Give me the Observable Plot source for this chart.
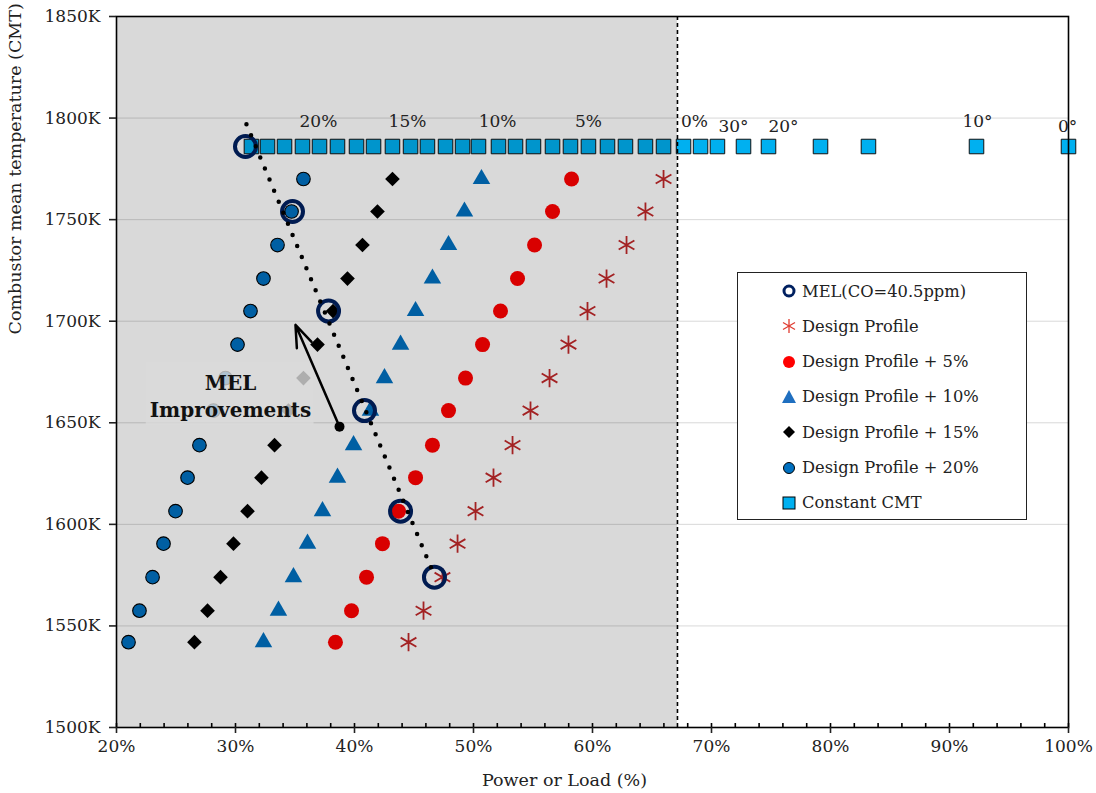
<!DOCTYPE html>
<html>
<head>
<meta charset="utf-8">
<script src="https://cdn.jsdelivr.net/npm/d3@7"></script>
<script src="https://cdn.jsdelivr.net/npm/@observablehq/plot@0.6"></script>
<style>
  html, body { margin: 0; padding: 0; background: white; }
  #wrap { position: relative; width: 1096px; height: 793px; }
  #legend { position: absolute; left: 737px; top: 272px; width: 290px; height: 248px;
    border: 1px solid #222; background: white; font-family: "DejaVu Serif", serif; font-size: 16.3px; color: #222; box-sizing: border-box; }
  .row { position: absolute; left: 42px; height: 22px; display: flex; align-items: center; white-space: nowrap; }
  .row svg { margin-right: 4px; }
</style>
</head>
<body>
<div id="wrap"><div id="chart"></div><div id="legend"></div></div>
<script>
// Temperature rows (K) shared by the design-profile series
const tempRows = [1542, 1557.5, 1574, 1590.5, 1606.5, 1623, 1639, 1656, 1672, 1688.5, 1705, 1721, 1737.5, 1754, 1770];
// Power or Load (%) per series, same order as tempRows
const designX   = [44.54, 45.80, 47.39, 48.66, 50.17, 51.68, 53.28, 54.79, 56.39, 57.98, 59.58, 61.18, 62.86, 64.45, 65.97];
const plus5X    = [38.40, 39.75, 41.01, 42.35, 43.70, 45.13, 46.55, 47.90, 49.33, 50.76, 52.27, 53.70, 55.13, 56.64, 58.24];
const plus10X   = [32.35, 33.61, 34.87, 36.05, 37.31, 38.57, 39.92, 41.34, 42.52, 43.87, 45.13, 46.55, 47.90, 49.24, 50.67];
const plus15X   = [26.55, 27.65, 28.74, 29.83, 31.01, 32.18, 33.28, 34.45, 35.71, 36.89, 38.20, 39.41, 40.67, 41.93, 43.19];
const plus20X   = [21.01, 21.93, 23.03, 23.95, 24.96, 25.97, 26.97, 28.15, 29.16, 30.17, 31.26, 32.35, 33.53, 34.71, 35.71];
// MEL (CO = 40.5 ppm)
const melT = [1574, 1606.5, 1656, 1705, 1754, 1786];
const melX = [46.72, 43.87, 40.84, 37.82, 34.79, 30.84];
// MEL trend (dotted line) end points
const trendX = [30.92, 46.64];
const trendT = [1797, 1575.8];
// Constant CMT
const cmtT = 1786;
const cmtX = [31.34, 32.69, 34.12, 35.63, 37.06, 38.57, 40.17, 41.60, 43.19, 44.71, 46.13, 47.65, 49.08, 50.42, 52.10, 53.53,
              55.04, 56.64, 58.15, 59.66, 61.26, 62.77, 64.45, 65.97, 67.65, 69.08, 70.50, 72.69, 74.79, 79.16, 83.19, 92.27, 100];
// Labels above the Constant CMT row
const topLabels = ["20%", "15%", "10%", "5%", "0%", "30°", "20°", "10°", "0°"];
const topLabelX = [36.97, 44.45, 52.02, 59.66, 68.57, 71.85, 76.05, 92.35, 99.92];
const topLabelT = [1798.5, 1798.5, 1798.5, 1798.5, 1798.5, 1795.6, 1795.6, 1798.5, 1795.6];
// Shaded region limit (%)
const limitX = 67.14;
// Arrow "MEL Improvements"
const arrowFrom = {x: 38.74, y: 1648.1};
const arrowTo = {x: 35.04, y: 1698.2};
const noteText = "MEL\nImprovements";
const notePos = {x: 29.58, y: 1663.7};
const noteBox = {x1: 22.5, x2: 36.6, y1: 1648.6, y2: 1680};
// Axes
const xTicks = [20, 30, 40, 50, 60, 70, 80, 90, 100];
const xMinor = [20,22,24,26,28,30,32,34,36,38,40,42,44,46,48,50,52,54,56,58,60,62,64,66,68,70,72,74,76,78,80,82,84,86,88,90,92,94,96,98,100];
const yTicks = [1500, 1550, 1600, 1650, 1700, 1750, 1800, 1850];
const gridT = [1550, 1600, 1650, 1700, 1750, 1800];
const legendLabels = ["MEL(CO=40.5ppm)", "Design Profile", "Design Profile + 5%", "Design Profile + 10%", "Design Profile + 15%", "Design Profile + 20%", "Constant CMT"];

const pts = xs => xs.map((x, i) => ({x, y: tempRows[i]}));
const mel = melX.map((x, i) => ({x, y: melT[i]}));
const trend = trendX.map((x, i) => ({x, y: trendT[i]}));
const cmt = cmtX.map(x => ({x, y: cmtT}));
const tops = topLabels.map((t, i) => ({t, x: topLabelX[i], y: topLabelT[i]}));

const chart = Plot.plot({
  width: 1096, height: 793,
  marginLeft: 116, marginRight: 28, marginTop: 16, marginBottom: 66,
  x: {domain: [20, 100]},
  y: {domain: [1500, 1850]},
  style: {fontFamily: "'DejaVu Serif', serif", fontSize: "17px", color: "#222", background: "white", overflow: "visible"},
  marks: [
    Plot.ruleY(gridT, {x1: 20, x2: 100, stroke: "#d9d9d9", strokeWidth: 1}),
    Plot.dot(cmt, {x: "x", y: "y", symbol: "square", r: 8.2, fill: "#00b0f0", stroke: "#111", strokeWidth: 1}),
    Plot.dot(pts(designX), {x: "x", y: "y", symbol: "asterisk", r: 8.6, stroke: "#c0282a", strokeWidth: 1.8}),
    Plot.dot(pts(plus5X), {x: "x", y: "y", symbol: "circle", r: 7.5, fill: "#ff0000"}),
    Plot.dot(pts(plus10X), {x: "x", y: "y", symbol: "triangle", r: 6.5, fill: "#0070c0"}),
    Plot.dot(pts(plus15X), {x: "x", y: "y", symbol: "diamond2", r: 6.6, fill: "#000"}),
    Plot.dot(pts(plus20X), {x: "x", y: "y", symbol: "circle", r: 6.8, fill: "#0070c0", stroke: "#000", strokeWidth: 1.1}),
    Plot.dot(mel, {x: "x", y: "y", r: 10.5, fill: "none", stroke: "#002060", strokeWidth: 4}),
    Plot.line(trend, {x: "x", y: "y", stroke: "#000", strokeWidth: 4.5, strokeDasharray: "0,12", strokeLinecap: "round"}),
    Plot.rect([{x1: 20, x2: limitX, y1: 1500, y2: 1850}], {x1: "x1", x2: "x2", y1: "y1", y2: "y2", fill: "#000", fillOpacity: 0.15}),
    Plot.rect([noteBox], {x1: "x1", x2: "x2", y1: "y1", y2: "y2", fill: "#d9d9d9", fillOpacity: 0.8}),
    Plot.text([noteText], {x: notePos.x, y: notePos.y, fontWeight: "bold", fontSize: 20, lineHeight: 1.35, fill: "#111"}),
    Plot.arrow([{x1: arrowFrom.x, y1: arrowFrom.y, x2: arrowTo.x, y2: arrowTo.y}], {x1: "x1", y1: "y1", x2: "x2", y2: "y2", stroke: "#000", strokeWidth: 2.5, headLength: 14, headAngle: 40}),
    Plot.dot([arrowFrom], {x: "x", y: "y", r: 5, fill: "#000"}),
    Plot.text(tops, {x: "x", y: "y", text: "t", fontSize: 17, fill: "#222"}),
    Plot.ruleX([limitX], {stroke: "#000", strokeWidth: 1.6, strokeDasharray: "4,3"}),
    Plot.frame({stroke: "#000", strokeWidth: 1.6}),
    Plot.ruleX(xMinor, {insetTop: 707, stroke: "#000", strokeWidth: 1.6}),
    Plot.axisX({ticks: xTicks, tickFormat: d => d + "%", tickSize: 6, tickPadding: 6, label: null, strokeWidth: 1.6}),
    Plot.axisY({ticks: yTicks, tickFormat: d => d + "K", tickSize: 7, tickPadding: 9, label: null, strokeWidth: 1.6}),
    Plot.text(["Power or Load (%)"], {frameAnchor: "bottom", dx: -28, dy: 53, lineAnchor: "middle", fontSize: 17.5}),
    Plot.text(["Combustor mean temperature (CMT)"], {frameAnchor: "left", rotate: -90, dx: -101, dy: -37.5, lineAnchor: "middle", fontSize: 17.5})
  ]
});
document.getElementById("chart").appendChild(chart);

// Legend
const sym = [
  '<circle cx="9" cy="9" r="5" fill="none" stroke="#002060" stroke-width="3"/>',
  '<g stroke="#e03c31" stroke-width="1.3"><line x1="9" y1="2" x2="9" y2="16"/><line x1="3" y1="5.5" x2="15" y2="12.5"/><line x1="3" y1="12.5" x2="15" y2="5.5"/></g>',
  '<circle cx="9" cy="9" r="6" fill="#ff0000"/>',
  '<path d="M9,2 L16,15 L2,15 Z" fill="#1f6fc0"/>',
  '<path d="M9,3 L15,9 L9,15 L3,9 Z" fill="#000"/>',
  '<circle cx="9" cy="9" r="5.5" fill="#0070c0" stroke="#000" stroke-width="1"/>',
  '<rect x="3" y="3" width="12" height="12" fill="#00b0f0" stroke="#000" stroke-width="1"/>'
];
const leg = document.getElementById("legend");
legendLabels.forEach((lab, i) => {
  const row = document.createElement("div");
  row.className = "row";
  row.style.top = (7 + i * 35.3) + "px";
  row.innerHTML = '<svg width="18" height="18">' + sym[i] + '</svg><span>' + lab + '</span>';
  leg.appendChild(row);
});
</script>
</body>
</html>
